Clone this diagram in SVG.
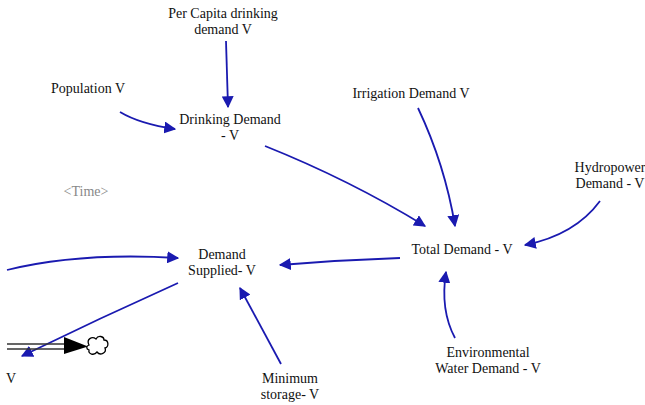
<svg xmlns="http://www.w3.org/2000/svg" width="645" height="405" viewBox="0 0 645 405">
<defs>
<marker id="bh" viewBox="0 0 10 10" refX="9" refY="5" markerWidth="12" markerHeight="12" orient="auto" markerUnits="userSpaceOnUse">
<path d="M0,0 L10,5 L0,10 z" fill="#1a1ab0"/>
</marker>
</defs>
<style>
text{font-family:"Liberation Serif","Times New Roman",serif;font-size:14px;fill:#111;text-anchor:middle}
.c{fill:none;stroke:#1a1ab0;stroke-width:1.8;marker-end:url(#bh)}
.g{fill:#888}
</style>
<rect width="645" height="405" fill="#fff"/>
<g id="connectors">
<path class="c" d="M226,41 L228,107"/>
<path class="c" d="M120,112 Q140,124 175,129"/>
<path class="c" d="M265,146 Q350,180 425,226"/>
<path class="c" d="M418,108 Q445,165 455,226"/>
<path class="c" d="M600,201 Q575,235 525,245"/>
<path class="c" d="M455,338 Q440,310 446,272"/>
<path class="c" d="M400,258 Q340,260 280,265"/>
<path class="c" d="M7,270 Q80,252 178,258"/>
<path class="c" d="M178,283 Q100,318 22,356"/>
<path class="c" d="M281,364 Q260,325 240,288"/>
</g>
<g id="flow">
<line x1="7" y1="344" x2="66" y2="344" stroke="#333" stroke-width="1.3"/>
<line x1="7" y1="349" x2="66" y2="349" stroke="#333" stroke-width="1.3"/>
<path d="M64,337 L88,346.5 L64,354 z" fill="#000"/>
<path d="M89,345 C86,339 92,336 96,339 C98,335 104,336 104,340 C109,340 109,347 105,348 C107,353 100,356 97,352 C94,356 88,354 89,350 C86,349 86,346 89,345 z" fill="#fff" stroke="#000" stroke-width="1.3"/>
</g>
<g id="n-percapita"><text x="223" y="18">Per Capita drinking</text><text x="223" y="34">demand V</text></g>
<g id="n-population"><text x="88" y="93">Population V</text></g>
<g id="n-drinking"><text x="230" y="124">Drinking Demand</text><text x="230" y="140">- V</text></g>
<g id="n-irrigation"><text x="411" y="98">Irrigation Demand V</text></g>
<g id="n-hydro"><text x="610" y="172">Hydropower</text><text x="610" y="188">Demand - V</text></g>
<g id="n-time"><text x="86" y="196" class="g">&lt;Time&gt;</text></g>
<g id="n-total"><text x="462" y="254">Total Demand - V</text></g>
<g id="n-supplied"><text x="222" y="259">Demand</text><text x="222" y="275">Supplied- V</text></g>
<g id="n-env"><text x="488" y="357">Environmental</text><text x="488" y="373">Water Demand - V</text></g>
<g id="n-min"><text x="290" y="383">Minimum</text><text x="290" y="399">storage- V</text></g>
<g id="n-v"><text x="11" y="383">V</text></g>
</svg>
